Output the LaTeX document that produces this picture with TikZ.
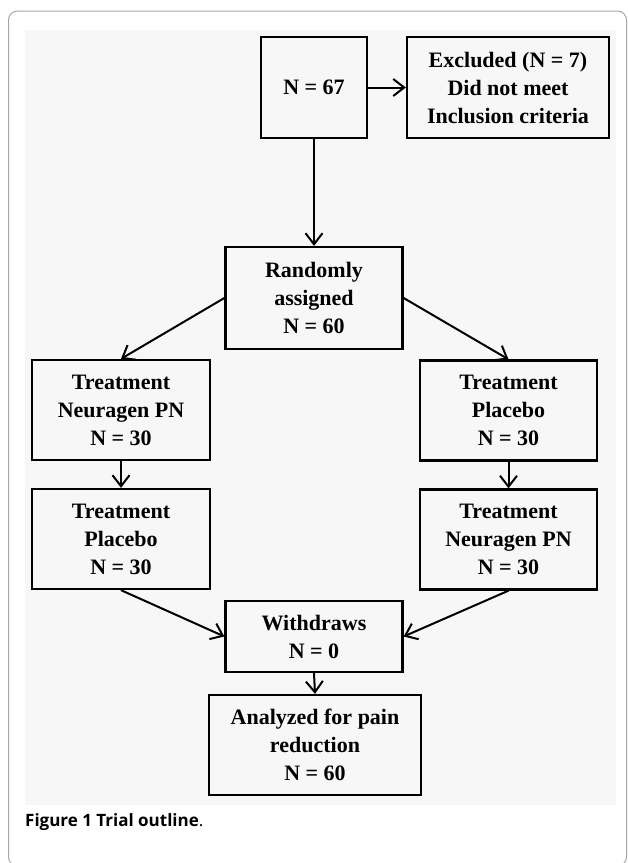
\documentclass[tikz,border=0pt]{standalone}
\usepackage{fontspec}
\setmainfont{Liberation Serif}
\newfontfamily\capfont{Open Sans}
\usetikzlibrary{arrows.meta}

\begin{document}
\begin{tikzpicture}[x=1pt,y=-1pt,
		box/.style={draw,line width=2.3pt,inner sep=0pt,align=center,minimum width=177pt,minimum height=100pt,font=\bfseries\fontsize{22}{28}\selectfont},
		arr/.style={line width=2pt,-{Straight Barb[length=11pt,width=17pt]}}]
	\useasboundingbox (0,0) rectangle (628,863);
	\begin{scope}
		\clip (0,0) rectangle (628,863);
		\draw[gray!70,line width=1pt,rounded corners=9pt] (8.5,11) rectangle (626.5,866);
	\end{scope}
	\fill[black!3] (25,30) rectangle (616,805);
	\node[box,minimum width=106pt,minimum height=101pt] (n67) at (314,87.5) {N = 67};
	\node[box,minimum width=202pt,minimum height=101pt] (excl) at (508,87.5) {Excluded (N = 7)\\Did not meet\\Inclusion criteria};
	\node[box,minimum height=102pt] (rand) at (314,298) {Randomly\\assigned\\N = 60};
	\node[box,minimum width=178pt] (neuraA) at (121,410) {Treatment\\Neuragen PN\\N = 30};
	\node[box] (placA) at (508.5,410.5) {Treatment\\Placebo\\N = 30};
	\node[box,minimum width=178pt] (placB) at (121,539) {Treatment\\Placebo\\N = 30};
	\node[box] (neuraB) at (508.5,539.5) {Treatment\\Neuragen PN\\N = 30};
	\node[box,minimum height=71pt] (withd) at (314,636.5) {Withdraws\\N = 0};
	\node[box,minimum width=212pt] (anal) at (315,745) {Analyzed for pain\\reduction\\N = 60};
	\node[anchor=base west,inner sep=0pt,font=\capfont\fontsize{17}{20}\selectfont] (cap) at (25,826) {\textbf{Figure 1 Trial outline}.};
	\draw[arr] (n67.east) -- (excl.west);
	\draw[arr] (n67.south) -- (rand.north);
	\draw[arr] (rand.west) -- (neuraA.north);
	\draw[arr] (rand.east) -- (placA.north);
	\draw[arr] (neuraA.south) -- (placB.north);
	\draw[arr] (placA.south) -- (neuraB.north);
	\draw[arr] (placB.south) -- (withd.west);
	\draw[arr] (neuraB.south) -- (withd.east);
	\draw[arr] (withd.south) -- (anal.north);
\end{tikzpicture}
\end{document}
